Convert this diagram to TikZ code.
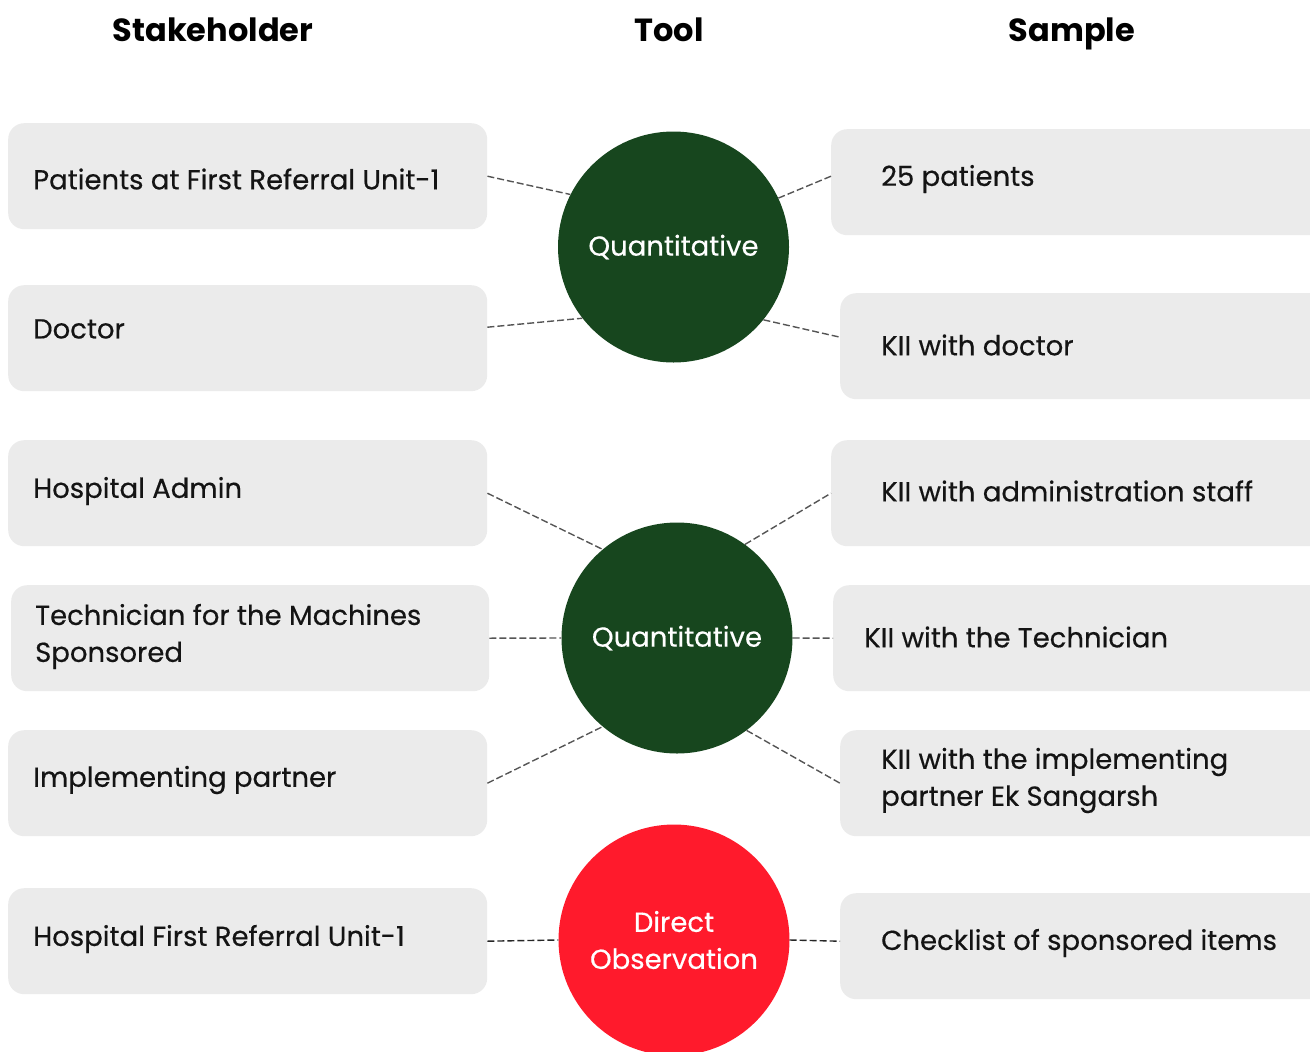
\documentclass[tikz,border=0pt]{standalone}
\usepackage{fontspec}
\setmainfont{Poppins}
\newfontfamily\medfont{Poppins}[FakeBold=0.4]
\newfontfamily\hdrfont{Poppins}[UprightFont=*-Bold, FakeBold=0.6]
\definecolor{boxgray}{HTML}{EBEBEB}
\definecolor{qgreen}{HTML}{17461E}
\definecolor{dred}{HTML}{FF1A2C}
\definecolor{linegray}{HTML}{555555}
\begin{document}
\begin{tikzpicture}[x=1pt,y=-1pt,
  hdr/.style={font=\fontsize{32}{38}\selectfont\bfseries, text=black, anchor=base, inner sep=0pt},
  card/.style={fill=boxgray, rounded corners=16pt, minimum height=106pt, inner sep=0pt, anchor=north west},
  txt/.style={font=\medfont\fontsize{27.5}{37}\selectfont, text=black!92, anchor=west, align=left, inner sep=0pt},
  tool/.style={circle, minimum size=231pt, inner sep=0pt, text=white, align=center, font=\medfont\fontsize{27.5}{37}\selectfont},
  conn/.style={draw=linegray, line width=1.4pt, dash pattern=on 7pt off 3pt},
  connd/.style={draw=black!85, line width=1.4pt, dash pattern=on 7pt off 3pt}
]
\useasboundingbox (0,0) rectangle (1310,1052);
\begin{scope}
\clip (0,0) rectangle (1310,1052);
% headers
\node[hdr] (h1) at (213,41) {Stakeholder};
\node[hdr] (h2) at (669,41) {Tool};
\node[hdr] (h3) at (1072,41) {Sample};
% left cards
\node[card, minimum width=479pt] (s1) at (8,123) {};
\node[card, minimum width=479pt] (s2) at (8,285) {};
\node[card, minimum width=479pt] (s3) at (8,440) {};
\node[card, minimum width=478pt] (s4) at (11,585) {};
\node[card, minimum width=479pt] (s5) at (8,730) {};
\node[card, minimum width=479pt] (s6) at (8,888) {};
\node[txt] (s1t) at (33,179) {Patients at First Referral Unit-1};
\node[txt] (s2t) at (33,329) {Doctor};
\node[txt] (s3t) at (33,491) {Hospital Admin};
\node[txt] (s4t) at (35,636.5) {Technician for the Machines\\Sponsored};
\node[txt] (s5t) at (33,780) {Implementing partner};
\node[txt] (s6t) at (33,939) {Hospital First Referral Unit-1};
% right cards
\node[card, minimum width=500pt] (r1) at (831,129) {};
\node[card, minimum width=500pt] (r2) at (840,293) {};
\node[card, minimum width=500pt] (r3) at (831,440) {};
\node[card, minimum width=500pt] (r4) at (833,585) {};
\node[card, minimum width=500pt] (r5) at (840,730) {};
\node[card, minimum width=500pt] (r6) at (840,893) {};
\node[txt] (r1t) at (881,179) {25 patients};
\node[txt] (r2t) at (881,345) {KII with doctor};
\node[txt] (r3t) at (881,491) {KII with administration staff};
\node[txt] (r4t) at (864,637) {KII with the Technician};
\node[txt] (r5t) at (881,780.5) {KII with the implementing\\partner Ek Sangarsh};
\node[txt] (r6t) at (881,943) {Checklist of sponsored items};
% tools
\node[tool, fill=qgreen] (c1) at (673.5,247) {Quantitative};
\node[tool, fill=qgreen] (c2) at (677,638) {Quantitative};
\node[tool, fill=dred] (c3) at (674,940) {Direct\\Observation};
% connector end points on cards
\coordinate (s2p) at ([yshift=11pt]s2.east);
\coordinate (r1p) at ([yshift=6pt]r1.west);
\coordinate (r2p) at ([yshift=9pt]r2.west);
\coordinate (r6p) at ([yshift=5pt]r6.west);
% connectors
\draw[conn] (s1.east) -- (c1.153);
\draw[conn] (s2p) -- (c1.218);
\draw[conn] (c1.25) -- (r1p);
\draw[conn] (c1.-39) -- (r2p);
\draw[conn] (s3.east) -- (c2.130);
\draw[conn] (c2.54) -- (r3.west);
\draw[conn] (s4.east) -- (c2.west);
\draw[conn] (c2.east) -- (r4.west);
\draw[conn] (s5.east) -- (c2.230);
\draw[conn] (c2.-53) -- (r5.west);
\draw[connd] (s6.east) -- (c3.west);
\draw[connd] (c3.east) -- (r6p);
\end{scope}
\end{tikzpicture}
\end{document}
